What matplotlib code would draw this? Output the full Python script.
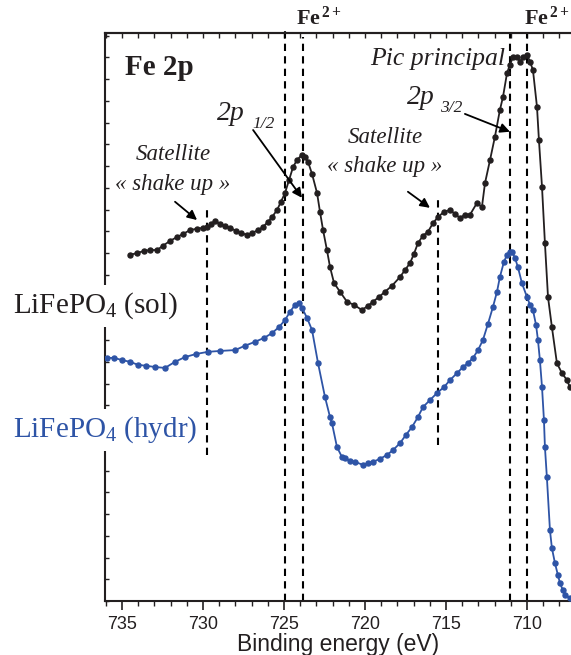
import matplotlib
matplotlib.use("Agg")
import matplotlib.pyplot as plt
from matplotlib.ticker import MultipleLocator, NullFormatter

# Fe 2p XPS spectra, LiFePO4 (sol) and LiFePO4 (hydr), intensity in arbitrary units
sol_ev = [734.51, 734.07, 733.64, 733.27, 732.84, 732.47, 732.04, 731.60, 731.23, 730.80,
          730.37, 730.00, 729.75, 729.51, 729.26, 728.95, 728.64, 728.33, 727.96, 727.65,
          727.28, 726.98, 726.60, 726.30, 725.99, 725.74, 725.43, 725.19, 724.94, 724.69,
          724.44, 724.20, 723.89, 723.70, 723.52, 723.27, 722.96, 722.78, 722.59, 722.35,
          722.16, 721.91, 721.54, 721.11, 720.68, 720.19, 719.81, 719.51, 719.14, 718.77,
          718.33, 717.84, 717.53, 717.22, 716.98, 716.73, 716.42, 716.11, 715.80, 715.49,
          715.12, 714.75, 714.44, 714.14, 713.83, 713.52, 713.09, 712.78, 712.59, 712.28,
          711.98, 711.67, 711.48, 711.23, 711.05, 710.86, 710.62, 710.43, 710.25, 710.00,
          709.81, 709.63, 709.38, 709.26, 709.07, 708.89, 708.70, 708.46, 708.15, 707.84,
          707.53, 707.35]
sol_int = [79.6, 80.0, 80.5, 80.7, 80.7, 81.7, 82.8, 83.7, 84.4, 85.3,
           85.6, 85.8, 86.0, 86.7, 87.4, 86.7, 86.3, 85.8, 85.1, 84.6,
           84.2, 84.6, 85.3, 86.0, 87.2, 88.3, 89.9, 91.8, 93.8, 96.8,
           99.8, 101.4, 102.6, 102.1, 101.0, 98.2, 93.8, 89.5, 85.3, 80.7,
           76.8, 73.1, 71.1, 68.8, 68.1, 66.9, 67.9, 68.8, 69.9, 71.1,
           72.5, 74.5, 76.1, 77.7, 79.8, 82.3, 84.0, 84.9, 86.9, 88.3,
           89.5, 89.9, 89.0, 88.1, 88.8, 88.8, 91.5, 90.6, 96.1, 101.4,
           106.7, 112.9, 115.9, 121.4, 123.3, 125.1, 125.1, 124.0, 125.1, 125.6,
           124.0, 122.1, 113.6, 106.0, 95.2, 82.3, 69.9, 63.0, 54.7, 52.4,
           50.8, 49.2]

hydr_ev = [735.93, 735.49, 735.00, 734.51, 734.01, 733.52, 732.96, 732.35, 731.73, 731.11,
           730.43, 729.69, 728.95, 728.02, 727.41, 726.79, 726.23, 725.74, 725.31, 724.94,
           724.63, 724.32, 724.07, 723.89, 723.58, 723.27, 722.90, 722.47, 722.16, 722.04,
           721.73, 721.42, 721.23, 720.93, 720.62, 720.12, 719.81, 719.51, 719.07, 718.64,
           718.27, 717.84, 717.47, 717.10, 716.73, 716.42, 715.99, 715.56, 715.12, 714.75,
           714.32, 713.95, 713.64, 713.33, 713.02, 712.72, 712.41, 712.10, 711.85, 711.67,
           711.42, 711.23, 711.05, 710.93, 710.74, 710.56, 710.31, 710.00, 709.81, 709.63,
           709.44, 709.32, 709.20, 709.07, 708.95, 708.89, 708.77, 708.58, 708.46, 708.27,
           708.09, 707.96, 707.78, 707.65, 707.35]
hydr_int = [55.9, 55.9, 55.4, 55.0, 54.3, 54.1, 53.8, 53.6, 55.0, 56.1,
            56.8, 57.3, 57.5, 57.7, 58.7, 59.6, 60.5, 61.6, 63.0, 64.6,
            66.5, 68.1, 68.5, 67.4, 65.1, 62.3, 54.7, 46.9, 42.3, 40.9,
            35.4, 33.1, 32.9, 32.2, 32.0, 31.3, 31.7, 32.0, 32.7, 33.6,
            34.7, 36.3, 38.2, 40.0, 42.3, 44.6, 46.2, 47.8, 49.2, 50.8,
            52.4, 53.8, 54.7, 55.9, 57.7, 60.0, 63.7, 67.6, 71.1, 74.5,
            78.0, 79.6, 80.3, 80.3, 78.9, 76.8, 73.1, 69.9, 68.1, 66.9,
            63.5, 60.0, 55.4, 49.2, 41.6, 35.4, 28.5, 16.3, 12.2, 8.7,
            6.0, 4.1, 2.5, 1.4, 0.7]

fe2_lines = [724.94, 723.8, 711.05, 710.0]
sat_lines = [729.75, 715.5]

dark = "#231f20"
blue = "#2e54a6"

plt.rcParams["font.family"] = ["Liberation Serif", "DejaVu Serif"]
plt.rcParams["mathtext.fontset"] = "custom"
plt.rcParams["mathtext.rm"] = "Liberation Serif"
plt.rcParams["mathtext.it"] = "Liberation Serif:italic"
plt.rcParams["mathtext.bf"] = "Liberation Serif:bold"

fig = plt.figure(figsize=(5.71, 6.55), dpi=100)
ax = fig.add_axes([0.184, 0.0824, 0.816, 0.8672])

ax.plot(sol_ev, sol_int, "-o", color=dark, lw=1.3, ms=3.6, zorder=3)
ax.plot(hydr_ev, hydr_int, "-o", color=blue, lw=1.3, ms=3.6, zorder=3)

dash = (0, (3.5, 2.5))
# lignes Fe2+ (celle de 725 depasse un peu en haut)
ax.plot([fe2_lines[0]] * 2, [0, 131.6], color="black", lw=1.5, ls=dash, clip_on=False, zorder=2)
ax.plot([fe2_lines[1]] * 2, [0, 129.7], color="black", lw=1.5, ls=dash, zorder=2)
ax.plot([fe2_lines[2]] * 2, [0, 130.6], color="black", lw=1.5, ls=dash, zorder=2)
ax.plot([fe2_lines[3]] * 2, [0, 130.6], color="black", lw=1.5, ls=dash, zorder=2)
ax.plot([sat_lines[0]] * 2, [33.6, 89.9], color="black", lw=1.5, ls=dash, zorder=2)
ax.plot([sat_lines[1]] * 2, [35.9, 92.2], color="black", lw=1.5, ls=dash, zorder=2)

ax.set_xlim(736.05, 707.28)
ax.set_ylim(0, 130.6)

# textes
ax.text(734.81, 122.6, "Fe 2p", fontsize=21, fontweight="bold", color=dark, ha="left", va="center")
ax.text(711.36, 124.6, "Pic principal", fontsize=18.5, style="italic", color=dark, ha="right", va="center")
ax.text(729.14, 110.5, "2p", fontsize=20, style="italic", color=dark, ha="left", va="baseline")
ax.text(726.98, 108.7, "1/2", fontsize=12.5, style="italic", color=dark, ha="left", va="baseline")
ax.text(717.41, 114.3, "2p", fontsize=20, style="italic", color=dark, ha="left", va="baseline")
ax.text(715.37, 112.5, "3/2", fontsize=12.5, style="italic", color=dark, ha="left", va="baseline")
ax.text(731.85, 102.6, "Satellite", fontsize=16.5, style="italic", color=dark, ha="center", va="center")
ax.text(731.85, 95.7, "« shake up »", fontsize=16.5, style="italic", color=dark, ha="center", va="center")
ax.text(718.77, 106.5, "Satellite", fontsize=16.5, style="italic", color=dark, ha="center", va="center")
ax.text(718.77, 99.8, "« shake up »", fontsize=16.5, style="italic", color=dark, ha="center", va="center")

arrow = dict(arrowstyle="-|>", color="black", lw=1.3, mutation_scale=14, shrinkA=0, shrinkB=0)
ax.annotate("", xy=(723.89, 92.7), xytext=(726.91, 108.3), arrowprops=arrow)
ax.annotate("", xy=(711.05, 107.9), xytext=(713.83, 112.0), arrowprops=arrow)
ax.annotate("", xy=(730.37, 87.6), xytext=(731.73, 91.8), arrowprops=arrow)
ax.annotate("", xy=(715.99, 90.4), xytext=(717.35, 94.1), arrowprops=arrow)

tr = ax.get_xaxis_transform()
ax.text(724.25, 1.026, r"$\mathbf{Fe}^{\,\mathbf{2+}}$", transform=tr, fontsize=16, color=dark,
        ha="left", va="center")
ax.text(710.2, 1.026, r"$\mathbf{Fe}^{\,\mathbf{2+}}$", transform=tr, fontsize=16, color=dark,
        ha="left", va="center")

fig.text(0.023, 0.522, r"LiFePO$_4$ (sol)", fontsize=21, color=dark, ha="left", va="baseline",
         bbox=dict(facecolor="white", edgecolor="none", pad=4), zorder=10)
fig.text(0.023, 0.333, r"LiFePO$_4$ (hydr)", fontsize=21, color=blue, ha="left", va="baseline",
         bbox=dict(facecolor="white", edgecolor="none", pad=4), zorder=10)

# axes
ax.spines["right"].set_visible(False)
for s in ["left", "top", "bottom"]:
    ax.spines[s].set_linewidth(1.5)
    ax.spines[s].set_color(dark)

ax.xaxis.set_major_locator(MultipleLocator(5))
ax.xaxis.set_minor_locator(MultipleLocator(1))
ax.tick_params(axis="x", which="major", direction="out", length=6.5, width=1.2, color=dark,
               labelsize=13, labelcolor=dark, pad=4, top=False)
ax.tick_params(axis="x", which="minor", direction="out", length=3.5, width=1.0, color=dark, top=False)
for lab in ax.get_xticklabels():
    lab.set_family("Liberation Sans")

ax.yaxis.set_major_locator(MultipleLocator(5))
ax.yaxis.set_major_formatter(NullFormatter())
ax.tick_params(axis="y", direction="in", length=3, width=1.0, color=dark)

sec = ax.secondary_xaxis("top")
sec.xaxis.set_major_locator(MultipleLocator(1))
sec.xaxis.set_major_formatter(NullFormatter())
sec.tick_params(direction="in", length=3.6, width=1.0, color=dark)
sec.spines["top"].set_linewidth(1.5)
sec.spines["top"].set_color(dark)

ax.set_xlabel("Binding energy (eV)", fontsize=16.5, family="Liberation Sans", color=dark, labelpad=0)

fig.savefig("out.png", dpi=100)
